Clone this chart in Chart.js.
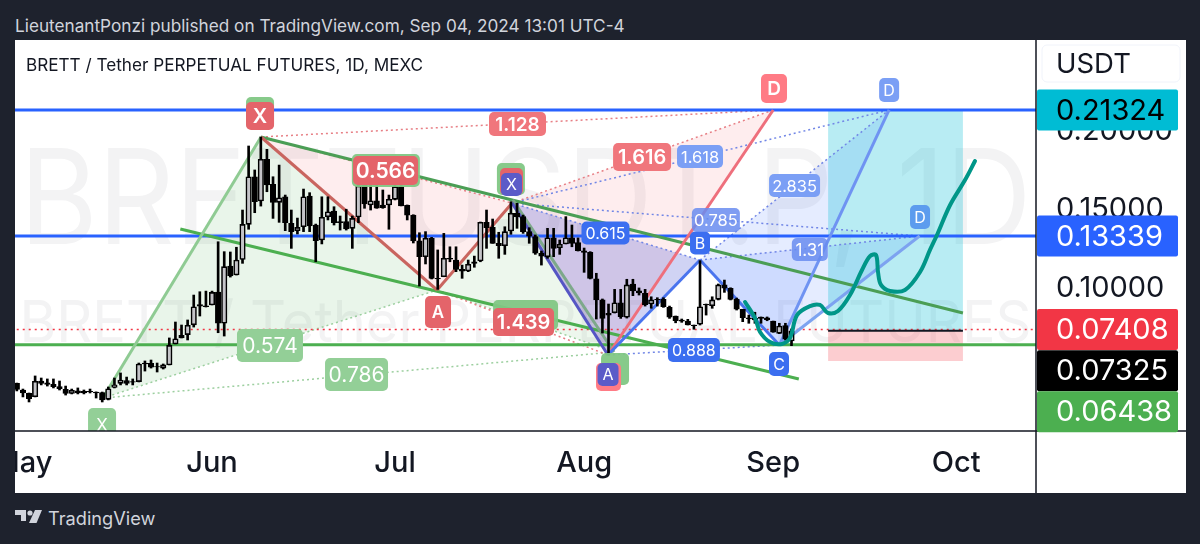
<!DOCTYPE html>
<html>
<head>
<meta charset="utf-8">
<title>BRETT / Tether</title>
<script src="https://cdn.jsdelivr.net/npm/chart.js@4/dist/chart.umd.min.js"></script>
<style>
    html, body { margin: 0; padding: 0; width: 1200px; height: 544px; overflow: hidden; background: #fff; }
    canvas { position: absolute; left: 0; top: 0; }
    .marco { position: absolute; background: #1e222d; color: #d1d4dc; font-family: Inter, sans-serif; }
    #titulo { position: absolute; left: 26px; top: 54px; font: 17.15px Inter, sans-serif; color: #131722; white-space: nowrap; }
</style>
</head>
<body>
<canvas id="grafico" width="1200" height="544"></canvas>
<div class="marco" style="left:0;top:0;width:1200px;height:40px;">
    <span style="position:absolute;left:15px;top:15px;font-size:17.2px;white-space:nowrap;">LieutenantPonzi published on TradingView.com, Sep 04, 2024 13:01 UTC-4</span>
</div>
<div class="marco" style="left:0;top:0;width:15px;height:544px;"></div>
<div class="marco" style="left:1186px;top:0;width:14px;height:544px;"></div>
<div class="marco" style="left:0;top:493px;width:1200px;height:51px;">
    <svg style="position:absolute;left:15px;top:17px;" width="28" height="15" viewBox="0 0 28 15">
        <path d="M0 0h11v11H6V5H0z M0 0" fill="#d1d4dc"/>
        <circle cx="15" cy="3" r="2.6" fill="#d1d4dc"/>
        <path d="M20 0h7l-5.5 13H14z" fill="#d1d4dc"/>
    </svg>
    <span style="position:absolute;left:48px;top:14px;font-size:18.2px;">TradingView</span>
</div>
<div id="titulo">BRETT / Tether PERPETUAL FUTURES, 1D, MEXC</div>
<script>
// Velas diarias: el dia 0 es el 1 de junio, la primera vela es el dia -32
const firstDay = -32;
const opens = [.0399,.0357,.0336,.0314,.0414,.0403,.0393,.0378,.0361,.0336,.0351,.0349,.0348,.0344,.0340,.0298,
    .0374,.0399,.0416,.0410,.0410,.0528,.0526,.0506,.0496,.0516,.0649,.0704,.0708,.0770,.0898,.0891,
    .0896,.0978,.0780,.1143,.1086,.1185,.1407,.1709,.1555,.1820,.1661,.1547,.1582,.1414,.1367,.1392,
    .1587,.1403,.1308,.1456,.1492,.1424,.1424,.1382,.1454,.1657,.1530,.1557,.1530,.1530,.1566,.1646,
    .1528,.1466,.1302,.1202,.1319,.1065,.1075,.1192,.1181,.1122,.1112,.1170,.1175,.1420,.1388,.1287,
    .1272,.1365,.1477,.1456,.1361,.1329,.1224,.1202,.1322,.1259,.1283,.1322,.1291,.1240,.1230,.1061,
    .0928,.0843,.0847,.0910,.0818,.1029,.0985,.0970,.0902,.0932,.0932,.0881,.0826,.0801,.0794,.0769,
    .0774,.0900,.0891,.0932,.1023,.1002,.0934,.0869,.0815,.0811,.0820,.0815,.0794,.0716,.0765,.0668];
const highs = [.0401,.0363,.0338,.0446,.0433,.0427,.0427,.0414,.0382,.0363,.0370,.0357,.0363,.0345,.0344,.0376,
    .0433,.0465,.0439,.0427,.0528,.0541,.0547,.0528,.0522,.0687,.0788,.0769,.0801,.0959,.0980,.0984,
    .0984,.1297,.1234,.1232,.1262,.1498,.1904,.1752,.1961,.1883,.1709,.1783,.1593,.1498,.1447,.1631,
    .1608,.1409,.1582,.1582,.1519,.1460,.1503,.1460,.1714,.1699,.1657,.1684,.1625,.1593,.1678,.1699,
    .1530,.1468,.1354,.1361,.1325,.1245,.1350,.1265,.1265,.1149,.1181,.1206,.1422,.1498,.1441,.1357,
    .1392,.1551,.1541,.1466,.1386,.1340,.1238,.1382,.1382,.1308,.1456,.1403,.1321,.1257,.1234,.1097,
    .0934,.0902,.0995,.0995,.1059,.1059,.1004,.0995,.0948,.0942,.0942,.0889,.0826,.0807,.0805,.0769,
    .1177,.0902,.0948,.1029,.1054,.1005,.0940,.0869,.0832,.0850,.0820,.0820,.0794,.0780,.0780,.0744];
const lows = [.0351,.0313,.0281,.0313,.0389,.0382,.0370,.0357,.0325,.0332,.0332,.0332,.0338,.0306,.0281,.0294,
    .0370,.0389,.0389,.0389,.0408,.0477,.0496,.0471,.0490,.0516,.0649,.0687,.0674,.0756,.0826,.0883,
    .0896,.0720,.0699,.1073,.1086,.1160,.1376,.1481,.1523,.1614,.1445,.1420,.1367,.1255,.1346,.1361,
    .1361,.1170,.1283,.1435,.1403,.1371,.1371,.1255,.1418,.1509,.1498,.1509,.1509,.1376,.1562,.1524,
    .1435,.1289,.1016,.1156,.1061,.0995,.1075,.1170,.1107,.1065,.1107,.1135,.1170,.1255,.1287,.1192,
    .1217,.1344,.1382,.1350,.1287,.1217,.1149,.1192,.1202,.1217,.1283,.1265,.1238,.1103,.1061,.0807,
    .0718,.0579,.0845,.0811,.0813,.0955,.0959,.0889,.0875,.0889,.0881,.0811,.0783,.0786,.0769,.0742,
    .0769,.0832,.0875,.0928,.0976,.0928,.0864,.0790,.0780,.0780,.0780,.0796,.0723,.0714,.0674,.0638];
const closes = [.0361,.0338,.0302,.0412,.0399,.0393,.0378,.0365,.0336,.0355,.0338,.0338,.0344,.0338,.0294,.0365,
    .0390,.0420,.0399,.0406,.0522,.0522,.0501,.0503,.0516,.0640,.0682,.0687,.0767,.0885,.0889,.0885,
    .0976,.0780,.1139,.1080,.1181,.1407,.1709,.1551,.1820,.1657,.1547,.1576,.1418,.1361,.1388,.1582,
    .1397,.1303,.1452,.1487,.1418,.1418,.1378,.1445,.1650,.1536,.1557,.1509,.1513,.1566,.1646,.1524,
    .1466,.1302,.1202,.1319,.1065,.1061,.1192,.1186,.1122,.1110,.1154,.1160,.1420,.1386,.1287,.1272,
    .1361,.1477,.1454,.1361,.1333,.1224,.1205,.1322,.1255,.1281,.1322,.1287,.1240,.1230,.1065,.0928,
    .0811,.0832,.0910,.0822,.1023,.0985,.0972,.0898,.0928,.0928,.0885,.0818,.0796,.0794,.0769,.0765,
    .0885,.0896,.0928,.1023,.1002,.0932,.0869,.0815,.0807,.0801,.0811,.0803,.0723,.0763,.0680,.07325];

const monthTicks = [-31, 0, 30, 61, 92, 122];
const monthLabels = ['May', 'Jun', 'Jul', 'Aug', 'Sep', 'Oct'];
const priceTicks = [0.1, 0.15, 0.2];

// Niveles horizontales
const levelTop = 0.21324;
const levelMid = 0.13339;
const levelLastPrice = 0.07325;
const levelRedDots = 0.07408;
const levelGreen = 0.06438;

// Puntos de los patrones [dia, precio]
const gX = [-17.9, .0306], gC = [49.3, .1562], gD = [65.9, .0598];
const rX = [8.03, .1961], rA = [36.9, .0991], rB = [49.2, .1542], rC = [64.9, .0579], rD = [92, .21324];
const bB = [80, .1181], bC = [93, .0642], bD1 = [111, .21324], bD2 = [116, .1333];

const channelUpper = [[8, .1961], [123.1, .0845]];
const channelLower = [[-5.2, .1378], [96.2, .0427]];

const projection = [[87.38, .0915], [89.02, .0813], [89.84, .0725], [91.48, .0661], [93.44, .0649], [94.75, .0687],
    [95.9, .0832], [98.03, .0889], [99.67, .0896], [100.98, .0845], [102.62, .0858], [104.59, .0959],
    [106.56, .1118], [107.87, .1206], [108.85, .1213], [109.18, .1105], [109.67, .1023], [111.15, .0985],
    [113.6, .0991], [116.07, .1105], [117.7, .1245], [118.85, .1340], [121, .1530], [123.44, .1688], [125.08, .1809]];

const tradeStart = 101, tradeEnd = 123.1, tradeStop = 0.0541;

// Etiquetas: [texto, dia, precio, ancho, alto, relleno, tipo de letra]
const GREEN = 'rgba(129,199,132,0.95)', RED = '#e4646a', SOFT_RED = '#f0767c', PINK = '#ff7b85';
const INDIGO = '#5b5bc8', BLUE = '#3b6ef0', LIGHT_BLUE = '#7b9ff5', BOLD = '600 ', PLAIN = '';
const chartLabels = [
    ['', 7.87, .2113, 28, 32, GREEN, PLAIN, 0],
    ['X', 7.87, .2094, 28, 28, RED, BOLD, 20],
    ['', 28.5, .1749, 68, 33, GREEN, PLAIN, 0],
    ['0.566', 28.45, .1749, 65, 29, RED, BOLD, 21],
    ['', 49, .1695, 28, 32, GREEN, PLAIN, 0],
    ['', 49.1, .1679, 23, 27, RED, PLAIN, 0],
    ['X', 49.1, .1660, 21, 23, INDIGO, PLAIN, 16],
    ['', 51.4, .0832, 65, 30, GREEN, PLAIN, 0],
    ['1.439', 51.07, .0788, 61, 28, RED, BOLD, 20],
    ['0.574', 9.5, .0639, 66, 33, '#93cf97', PLAIN, 21],
    ['0.786', 23.69, .0455, 63, 33, '#93cf97', PLAIN, 21],
    ['X', -18.03, .0135, 28, 34, '#93cf97', PLAIN, 17],
    ['A', 37.05, .0851, 26, 32, RED, BOLD, 17],
    ['1.128', 50.08, .2043, 57, 24, SOFT_RED, BOLD, 19],
    ['1.616', 70.5, .1834, 58, 28, SOFT_RED, BOLD, 20],
    ['D', 92.13, .2268, 26, 29, PINK, BOLD, 19],
    ['0.615', 64.5, .1352, 48, 23, BLUE, PLAIN, 16],
    ['B', 80, .1289, 20, 23, BLUE, PLAIN, 16],
    ['0.888', 79, .0611, 52, 24, BLUE, PLAIN, 16],
    ['C', 92.95, .0522, 20, 24, BLUE, PLAIN, 16],
    ['', 66.07, .0490, 28, 32, GREEN, PLAIN, 0],
    ['', 65, .0439, 25, 28, PINK, PLAIN, 0],
    ['A', 64.92, .0455, 21, 23, INDIGO, PLAIN, 16],
    ['1.618', 80, .1837, 46, 23, LIGHT_BLUE, PLAIN, 16.5],
    ['2.835', 95.5, .1653, 51, 23, LIGHT_BLUE, PLAIN, 16.5],
    ['0.785', 82.6, .1435, 48, 24, 'rgba(105,140,240,0.85)', PLAIN, 16.5],
    ['1.31', 98, .1248, 36, 23, 'rgba(105,140,240,0.85)', PLAIN, 17],
    ['D', 111, .2259, 20, 24, LIGHT_BLUE, PLAIN, 16],
    ['D', 116.07, .1454, 20, 24, '#5c9cee', PLAIN, 16]
];

// Marcas de precio del eje: [precio, fondo, texto, desplazamiento hacia abajo]
const priceTags = [
    [levelTop, '#00bcd4', '#000000', 0],
    [levelMid, '#2962ff', '#ffffff', 0],
    [levelRedDots, '#f23645', '#ffffff', 0],
    [levelLastPrice, '#000000', '#ffffff', 40],
    [levelGreen, '#4caf50', '#ffffff', 67]
];

const FONT = 'Inter, "Noto Sans", sans-serif';

function toXY(points) {
    return points.map(p => ({ x: p[0], y: p[1] }));
}

/** Poligono relleno */
function area(points, color) {
    return { type: 'scatter', data: toXY(points), showLine: true, fill: 'shape', backgroundColor: color,
        borderWidth: 0, borderColor: 'transparent', pointRadius: 0, clip: true };
}

/** Linea continua o punteada */
function line(points, color, width, dash) {
    return { type: 'scatter', data: toXY(points), showLine: true, fill: false, borderColor: color,
        borderWidth: width, borderDash: dash || [], pointRadius: 0, tension: 0 };
}

function level(value, color, width, dash) {
    return line([[firstDay - 1, value], [136, value]], color, width, dash);
}

const candleDays = opens.map((_, i) => firstDay + i);
const isUp = opens.map((o, i) => closes[i] >= o);
const DOTS = [2, 3];
const redDots = '#e77f85', greenDots = '#9ccf9f', blueDots = '#7186e6';

// Orden de dibujo: de abajo hacia arriba
const stacked = [
    area([gX, rX, rA], 'rgba(76,175,80,0.12)'),
    area([rA, gC, gD], 'rgba(76,175,80,0.10)'),
    area([rX, rA, rB], 'rgba(242,54,69,0.09)'),
    area([rB, rC, rD], 'rgba(242,54,69,0.09)'),
    area([rB, rC, bB], 'rgba(60,70,210,0.24)'),
    area([bB, bC, bD1], 'rgba(41,98,255,0.12)'),
    area([bB, bC, bD2], 'rgba(41,98,255,0.12)'),
    area([[tradeStart, levelTop], [tradeEnd, levelTop], [tradeEnd, levelLastPrice], [tradeStart, levelLastPrice]], 'rgba(0,188,212,0.28)'),
    area([[tradeStart, levelLastPrice], [tradeEnd, levelLastPrice], [tradeEnd, tradeStop], [tradeStart, tradeStop]], 'rgba(242,54,69,0.25)'),
    line([gX, rA], greenDots, 1.5, DOTS),
    line([gX, gD], greenDots, 1.5, DOTS),
    line([rA, gD], greenDots, 1.5, DOTS),
    line([rX, rB], redDots, 1.5, DOTS),
    line([rX, rD], redDots, 1.5, DOTS),
    line([rA, rC], redDots, 1.5, DOTS),
    line([rB, rD], redDots, 1.5, DOTS),
    line([rB, bB], blueDots, 1.5, DOTS),
    line([rC, bC], blueDots, 1.5, DOTS),
    line([rB, bD1], blueDots, 1.5, DOTS),
    line([rB, bD2], blueDots, 1.5, DOTS),
    line([bB, bD1], blueDots, 1.5, DOTS),
    line([bB, bD2], blueDots, 1.5, DOTS),
    level(levelRedDots, '#f23645', 1.5, [2, 4]),
    level(levelTop, '#2962ff', 3),
    level(levelMid, '#2962ff', 3),
    level(levelGreen, '#4caf50', 3),
    line(channelUpper, '#4b9e55', 3),
    line(channelLower, '#4caf50', 3),
    line([gX, rX], '#8fcb93', 3),
    line([gC, gD], '#7da88a', 3),
    line([rX, rA], '#c9655f', 3),
    line([rA, rB], '#c9655f', 3),
    line([rC, rD], '#ee6f7c', 3),
    line([rB, rC], '#5555c4', 3),
    line([rC, bB], '#4a74ee', 3),
    line([bB, bC], '#4a74ee', 3),
    line([bC, bD1], '#6f93f2', 3),
    line([bC, bD2], '#7da3f0', 3),
    line([[tradeStart, levelLastPrice], [tradeEnd, levelLastPrice]], '#131722', 2),
    {
        type: 'bar', grouped: false, barThickness: 2, backgroundColor: '#000',
        data: candleDays.map((d, i) => ({ x: d, y: [lows[i], highs[i]] }))
    },
    {
        type: 'bar', grouped: false, barThickness: 5.5, borderWidth: 1.6, borderSkipped: false,
        borderColor: '#000',
        backgroundColor: isUp.map(up => up ? '#c4c4c8' : '#000'),
        data: candleDays.map((d, i) => ({ x: d, y: [opens[i], closes[i]] }))
    },
    Object.assign(line(projection, '#009688', 4), { tension: 0.35, borderCapStyle: 'round', borderJoinStyle: 'round' })
];

function roundedBox(ctx, x, y, w, h, r, color) {
    ctx.fillStyle = color;
    ctx.beginPath();
    ctx.roundRect(x, y, w, h, r);
    ctx.fill();
}

const decorations = {
    id: 'decorations',
    // Marca de agua de fondo
    beforeDatasetsDraw(chart) {
        const { ctx, chartArea } = chart;
        ctx.save();
        ctx.beginPath();
        ctx.rect(chartArea.left, chartArea.top, chartArea.width, chartArea.height);
        ctx.clip();
        ctx.fillStyle = '#f3f3f4';
        ctx.textAlign = 'center';
        ctx.textBaseline = 'alphabetic';
        const centerX = (chartArea.left + chartArea.right) / 2;
        ctx.font = '132px ' + FONT;
        ctx.fillText('BRETTUSDT.P, 1D', centerX, 244, 1012);
        ctx.font = '57px ' + FONT;
        ctx.fillText('BRETT / Tether PERPETUAL FUTURES', centerX, 342, 1012);
        ctx.restore();
    },
    afterDraw(chart) {
        const { ctx, chartArea, scales } = chart;
        const { x, y } = scales;

        // Etiquetas del patron
        ctx.save();
        ctx.beginPath();
        ctx.rect(chartArea.left, chartArea.top, chartArea.width, chartArea.height);
        ctx.clip();
        ctx.textAlign = 'center';
        ctx.textBaseline = 'middle';
        chartLabels.forEach(([text, day, price, w, h, fill, weight, size]) => {
            const px = x.getPixelForValue(day);
            const py = y.getPixelForValue(price);
            roundedBox(ctx, px - w / 2, py - h / 2, w, h, 5, fill);
            if (text) {
                ctx.fillStyle = '#ffffff';
                ctx.font = weight + size + 'px ' + FONT;
                ctx.fillText(text, px, py + 1);
            }
        });
        ctx.restore();

        // Lineas de los ejes
        ctx.save();
        ctx.strokeStyle = '#131722';
        ctx.lineWidth = 1.5;
        ctx.beginPath();
        ctx.moveTo(chartArea.left, chartArea.bottom);
        ctx.lineTo(1186, chartArea.bottom);
        ctx.moveTo(chartArea.right, chartArea.top);
        ctx.lineTo(chartArea.right, 493);
        ctx.stroke();

        // Selector de moneda
        ctx.strokeStyle = '#f0f3fa';
        ctx.lineWidth = 1;
        ctx.beginPath();
        ctx.roundRect(1042, 45, 138, 37, 5);
        ctx.stroke();
        ctx.fillStyle = '#131722';
        ctx.font = '27.5px ' + FONT;
        ctx.textAlign = 'left';
        ctx.textBaseline = 'middle';
        ctx.fillText('USDT', 1056, 65);

        // Marcas de precio
        ctx.font = '29px ' + FONT;
        priceTags.forEach(([price, bg, fg, shift]) => {
            const py = y.getPixelForValue(price) + shift;
            roundedBox(ctx, chartArea.right + 1, py - 20.5, 141, 41, 2, bg);
            ctx.fillStyle = fg;
            ctx.fillText(price.toFixed(5), 1056, py + 1);
        });
        ctx.restore();
    }
};

new Chart(document.getElementById('grafico'), {
    type: 'scatter',
    data: { datasets: stacked.slice().reverse() },
    plugins: [decorations],
    options: {
        responsive: false,
        animation: false,
        layout: { autoPadding: false, padding: { left: 15, top: 40, right: 14, bottom: 51 } },
        plugins: { legend: { display: false }, tooltip: { enabled: false }, title: { display: false } },
        scales: {
            x: {
                type: 'linear',
                offset: false,
                min: -32.3,
                max: 135.08,
                grid: { display: false },
                border: { display: false },
                afterBuildTicks: scale => { scale.ticks = monthTicks.map(value => ({ value })); },
                afterFit: scale => {
                    scale.height = 62;
                    scale.paddingLeft = 0;
                    scale.paddingRight = 0;
                },
                ticks: {
                    autoSkip: false,
                    maxRotation: 0,
                    padding: 7,
                    color: '#131722',
                    font: { family: FONT, size: 29, weight: '500' },
                    callback: value => monthLabels[monthTicks.indexOf(value)]
                }
            },
            y: {
                type: 'linear',
                position: 'right',
                min: 0.0097,
                max: 0.2576,
                grid: { display: false, drawTicks: false },
                border: { display: false },
                afterBuildTicks: scale => { scale.ticks = priceTicks.map(value => ({ value })); },
                afterFit: scale => { scale.width = 150; },
                ticks: {
                    padding: 20,
                    color: '#131722',
                    font: { family: FONT, size: 29 },
                    callback: value => value.toFixed(5)
                }
            }
        }
    }
});
</script>
</body>
</html>
